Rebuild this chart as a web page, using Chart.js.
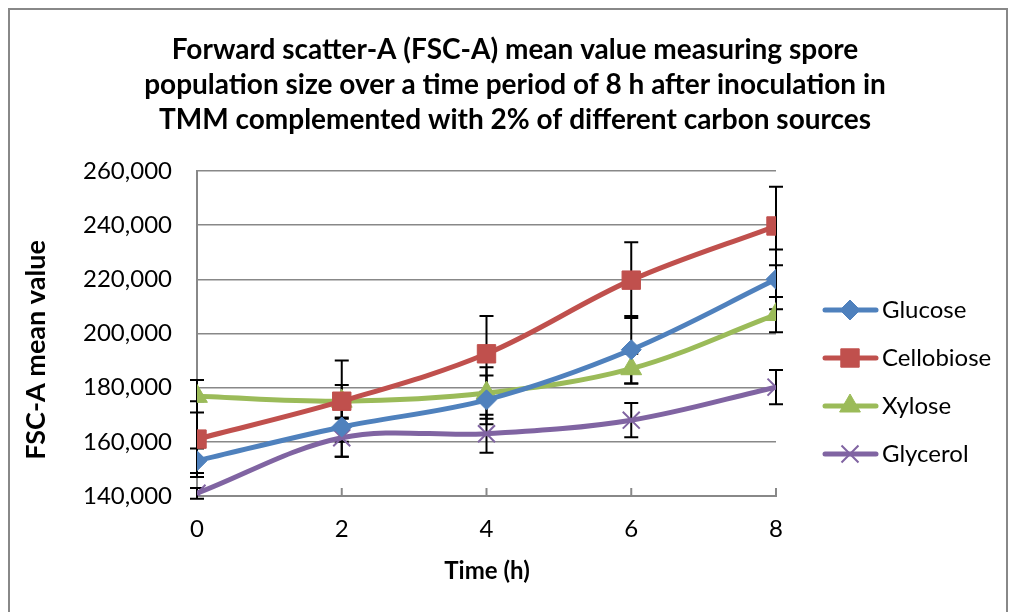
<!DOCTYPE html>
<html>
<head>
<meta charset="utf-8">
<script src="https://cdn.jsdelivr.net/npm/chart.js@4/dist/chart.umd.min.js"></script>
<style>
  html, body { margin: 0; padding: 0; background: #fff; }
  #frame { position: absolute; left: 8px; top: 8px; width: 1000px; height: 640px; border: 2px solid #888; box-sizing: border-box; }
  #c { position: absolute; left: 0; top: 0; }
</style>
</head>
<body>
<div id="frame"></div>
<canvas id="c" width="1016" height="612"></canvas>
<script>
const times = [0, 2, 4, 6, 8];
const seriesNames = ['Glucose', 'Cellobiose', 'Xylose', 'Glycerol'];
const glucose = [153000, 165500, 175500, 194000, 220000];
const cellobiose = [161000, 175000, 192500, 219700, 239700];
const xylose = [176800, 175000, 178000, 187000, 207000];
const glycerol = [141000, 161500, 163000, 168000, 180200];
// error bar half lengths (+/-)
const glucoseErr = [4500, 11000, 9000, 12500, 11000];
const cellobioseErr = [14000, 15000, 14000, 14000, 14500];
const xyloseErr = [6000, 6000, 9500, 5500, 6500];
const glycerolErr = [2000, 7000, 7000, 6300, 6300];

const titleLines = [
  'Forward scatter-A (FSC-A) mean value measuring spore',
  'population size over a time period of 8 h after inoculation in',
  'TMM complemented with 2% of different carbon sources'
];
const xTitle = 'Time (h)';
const yTitle = 'FSC-A mean value';

const FONT = 'Lato, "Open Sans", sans-serif';

function pts(vals) {
  return vals.map((v, i) => ({ x: times[i], y: v }));
}

const styles = [
  { color: '#4F81BD', point: 'rectRot', r: 10, bw: 1 },
  { color: '#C0504D', point: 'rect', r: 13, bw: 1 },
  { color: '#9BBB59', point: 'triangle', r: 12, bw: 1 },
  { color: '#8064A2', point: 'crossRot', r: 12, bw: 2 }
];
const allVals = [glucose, cellobiose, xylose, glycerol];
const allErr = [glucoseErr, cellobioseErr, xyloseErr, glycerolErr];

const datasets = seriesNames.map((name, k) => ({
  label: name,
  data: pts(allVals[k]),
  errors: allErr[k],
  borderColor: styles[k].color,
  backgroundColor: styles[k].color,
  borderWidth: 5,
  tension: 0.35,
  pointStyle: styles[k].point,
  pointRadius: styles[k].r,
  pointBorderWidth: styles[k].bw,
  pointBackgroundColor: styles[k].color,
  pointBorderColor: styles[k].color
}));

// error bars and inner tick marks, drawn under the lines
const errorBars = {
  id: 'errorBars',
  beforeDatasetsDraw(chart) {
    const ctx = chart.ctx, xs = chart.scales.x, ys = chart.scales.y;
    ctx.save();
    // inward tick marks on the x axis
    ctx.strokeStyle = '#888';
    ctx.lineWidth = 2;
    times.forEach(t => {
      const px = xs.getPixelForValue(t);
      ctx.beginPath();
      ctx.moveTo(px, ys.bottom);
      ctx.lineTo(px, ys.bottom - 8);
      ctx.stroke();
    });
    ctx.strokeStyle = '#000';
    ctx.lineWidth = 2;
    chart.data.datasets.forEach(ds => {
      ds.data.forEach((p, i) => {
        const e = ds.errors[i];
        const px = xs.getPixelForValue(p.x);
        const top = ys.getPixelForValue(p.y + e);
        const bot = ys.getPixelForValue(p.y - e);
        ctx.beginPath();
        ctx.moveTo(px, top); ctx.lineTo(px, bot);
        ctx.moveTo(px - 7, top); ctx.lineTo(px + 7, top);
        ctx.moveTo(px - 7, bot); ctx.lineTo(px + 7, bot);
        ctx.stroke();
      });
    });
    ctx.restore();
  }
};

// title, axis titles and legend
const texts = {
  id: 'texts',
  afterDraw(chart) {
    const ctx = chart.ctx;
    ctx.save();
    ctx.fillStyle = '#000';
    ctx.textAlign = 'center';
    ctx.textBaseline = 'alphabetic';
    ctx.font = 'bold 28px ' + FONT;
    titleLines.forEach((l, i) => ctx.fillText(l, 515, 59 + i * 35));

    ctx.font = 'bold 24px ' + FONT;
    ctx.fillText(xTitle, 487, 579);

    ctx.save();
    ctx.translate(36, 350);
    ctx.rotate(-Math.PI / 2);
    ctx.textBaseline = 'middle';
    ctx.font = 'bold 27px ' + FONT;
    ctx.fillText(yTitle, 0, 0);
    ctx.restore();

    // legend
    ctx.textAlign = 'left';
    ctx.textBaseline = 'middle';
    ctx.font = '24px ' + FONT;
    chart.data.datasets.forEach((ds, i) => {
      const y = 310 + i * 48;
      ctx.strokeStyle = ds.borderColor;
      ctx.lineWidth = 5;
      ctx.lineCap = 'round';
      ctx.beginPath();
      ctx.moveTo(825, y); ctx.lineTo(876, y);
      ctx.stroke();
      ctx.lineCap = 'butt';
      ctx.fillStyle = ds.pointBackgroundColor;
      ctx.strokeStyle = ds.pointBorderColor;
      ctx.lineWidth = ds.pointBorderWidth;
      Chart.helpers.drawPoint(ctx, { pointStyle: ds.pointStyle, radius: ds.pointRadius, borderWidth: ds.pointBorderWidth, rotation: 0 }, 850, y);
      ctx.fillStyle = '#000';
      ctx.fillText(ds.label, 882, y);
    });
    ctx.restore();
  }
};

new Chart(document.getElementById('c').getContext('2d'), {
  type: 'line',
  data: { datasets: datasets },
  plugins: [errorBars, texts],
  options: {
    responsive: false,
    animation: false,
    layout: { padding: { left: 0, right: 240, top: 171, bottom: 0 } },
    plugins: {
      legend: { display: false },
      title: { display: false },
      tooltip: { enabled: false }
    },
    scales: {
      x: {
        type: 'linear', min: 0, max: 8,
        ticks: { stepSize: 2, color: '#000', padding: 11, font: { family: FONT, size: 24 } },
        grid: { display: false },
        border: { color: '#888', width: 2 },
        afterFit(s) { s.height = 116; }
      },
      y: {
        min: 140000, max: 260000,
        ticks: {
          stepSize: 20000, color: '#000', padding: 25,
          font: { family: FONT, size: 24 },
          callback: v => v.toLocaleString('en-US')
        },
        grid: { color: '#888', lineWidth: 1.5, drawTicks: false },
        border: { color: '#888', width: 2 },
        afterFit(s) { s.width = 197; }
      }
    }
  }
});
</script>
</body>
</html>
